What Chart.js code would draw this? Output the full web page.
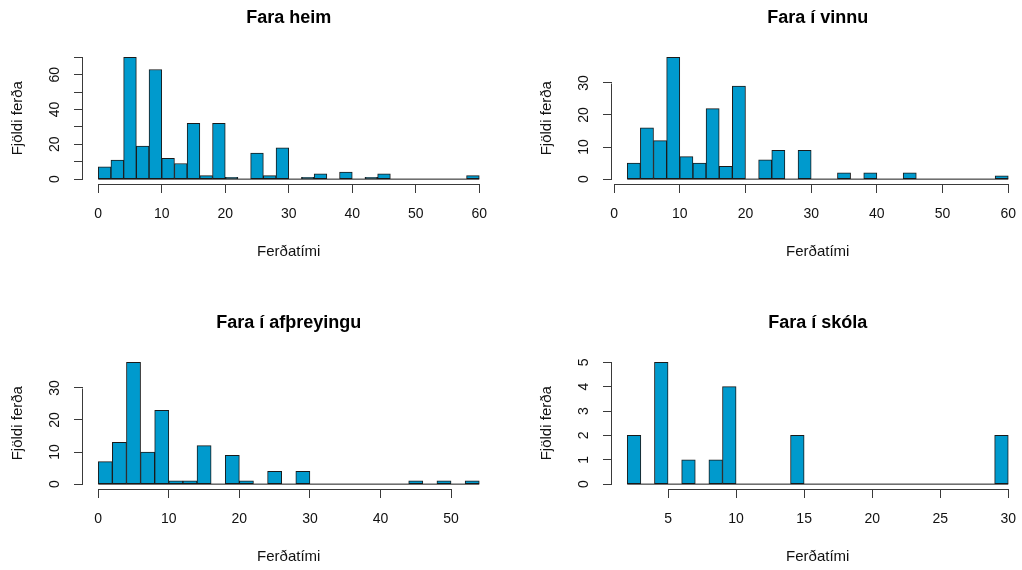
<!DOCTYPE html>
<html><head><meta charset="utf-8">
<script src="https://cdn.jsdelivr.net/npm/chart.js@4/dist/chart.umd.min.js"></script>
<style>
html,body{margin:0;padding:0;background:#fff;overflow:hidden;width:1022px;height:570px;position:relative;}
canvas{position:absolute;}
</style></head><body>
<canvas id="c1" width="511" height="305" style="left:0;top:0"></canvas>
<canvas id="c2" width="511" height="305" style="left:529px;top:0"></canvas>
<canvas id="c3" width="511" height="265" style="left:0;top:305px"></canvas>
<canvas id="c4" width="511" height="265" style="left:529px;top:305px"></canvas>
<script>
// ---- data ----
const xTitle = 'Ferðatími';
const yTitle = 'Fjöldi ferða';

const heimTitle = 'Fara heim';
const heimBinWidth = 2;
const heimBinStarts = [0,2,4,6,8,10,12,14,16,18,20,22,24,26,28,30,32,34,36,38,40,42,44,46,48,50,52,54,56,58];
const heimCounts    = [7,11,70,19,63,12,9,32,2,32,1,0,15,2,18,0,1,3,0,4,0,1,3,0,0,0,0,0,0,2];
const heimXTicks = [0,10,20,30,40,50,60];
const heimYTicks = [0,10,20,30,40,50,60,70];
const heimYLabels = [0,20,40,60];

const vinnaTitle = 'Fara í vinnu';
const vinnaBinWidth = 2;
const vinnaBinStarts = [2,4,6,8,10,12,14,16,18,20,22,24,26,28,30,32,34,36,38,40,42,44,46,48,50,52,54,56,58];
const vinnaCounts    = [5,16,12,38,7,5,22,4,29,0,6,9,0,9,0,0,2,0,2,0,0,2,0,0,0,0,0,0,1];
const vinnaXTicks = [0,10,20,30,40,50,60];
const vinnaYTicks = [0,10,20,30];
const vinnaYLabels = [0,10,20,30];

const afthTitle = 'Fara í afþreyingu';
const afthBinWidth = 2;
const afthBinStarts = [0,2,4,6,8,10,12,14,16,18,20,22,24,26,28,30,32,34,36,38,40,42,44,46,48,50,52];
const afthCounts    = [7,13,38,10,23,1,1,12,0,9,1,0,4,0,4,0,0,0,0,0,0,0,1,0,1,0,1];
const afthXTicks = [0,10,20,30,40,50];
const afthYTicks = [0,10,20,30];
const afthYLabels = [0,10,20,30];

const skoliTitle = 'Fara í skóla';
const skoliBinWidth = 1;
const skoliBinStarts = [2,3,4,5,6,7,8,9,10,11,12,13,14,15,16,17,18,19,20,21,22,23,24,25,26,27,28,29];
const skoliCounts    = [2,0,5,0,1,0,1,4,0,0,0,0,2,0,0,0,0,0,0,0,0,0,0,0,0,0,0,2];
const skoliXTicks = [5,10,15,20,25,30];
const skoliYTicks = [0,1,2,3,4,5];
const skoliYLabels = [0,1,2,3,4,5];

// ---- style ----
const FONT = "'Liberation Sans', Arial, sans-serif";
const TICK_SIZE = 14, LAB_SIZE = 15, MAIN_SIZE = 18;
const TL = 9;
const AXIS_COLOR = '#3a3a3a';
const TEXT_COLOR = '#111';
const BAR_FILL = '#009ACD';
const BAR_EDGE = '#1a1a1a';

const axisLines = {
  id: 'axisLines',
  afterDraw(chart) {
    const ctx = chart.ctx;
    const xs = chart.scales.x, ys = chart.scales.y;
    ctx.save();
    ctx.strokeStyle = AXIS_COLOR;
    ctx.lineWidth = 1;
    const xt = xs.ticks, yt = ys.ticks;
    const yLine = Math.round(xs.top) + 0.5;
    ctx.beginPath();
    ctx.moveTo(Math.round(xs.getPixelForValue(xt[0].value)) + 0.5, yLine);
    ctx.lineTo(Math.round(xs.getPixelForValue(xt[xt.length - 1].value)) + 0.5, yLine);
    ctx.stroke();
    const xLine = Math.round(ys.right) - 0.5;
    ctx.beginPath();
    ctx.moveTo(xLine, Math.round(ys.getPixelForValue(yt[0].value)) + 0.5);
    ctx.lineTo(xLine, Math.round(ys.getPixelForValue(yt[yt.length - 1].value)) + 0.5);
    ctx.stroke();
    ctx.restore();
  }
};

const measureCtx = document.createElement('canvas').getContext('2d');

function makeHist(id, title, starts, counts, width, xTicks, yTicks, yLabels) {
  const canvas = document.getElementById(id);
  const W = canvas.width, H = canvas.height;
  const lo = starts[0], hi = starts[starts.length - 1] + width;
  const xPad = (hi - lo) * 0.04;
  const yMax = Math.max(...counts);
  const yPad = yMax * 0.04;
  const bars = starts.map((s, i) => ({x: s + width / 2, y: counts[i]}));
  measureCtx.font = TICK_SIZE + 'px ' + FONT;
  const widest = Math.max(...yLabels.map(v => measureCtx.measureText(String(v)).width));
  const areaLeft = 83, areaRight = 494.5, areaBottom = 184, xAxisH = 77;
  const grid = {display: true, drawOnChartArea: false, drawTicks: true, tickLength: TL,
                tickColor: AXIS_COLOR, color: AXIS_COLOR, lineWidth: 1, offset: false};
  new Chart(canvas, {
    type: 'bar',
    data: {datasets: [
      {type: 'bar', data: bars, backgroundColor: BAR_FILL, borderColor: BAR_EDGE, borderWidth: 1,
       borderSkipped: false, barPercentage: 1, categoryPercentage: 1, order: 2},
      {type: 'line', data: [{x: lo, y: 0}, {x: hi, y: 0}], borderColor: BAR_EDGE, borderWidth: 1,
       pointRadius: 0, fill: false, order: 1}
    ]},
    options: {
      responsive: false, animation: false, devicePixelRatio: 1,
      events: [],
      layout: {padding: {left: 0, top: 0, right: W - areaRight, bottom: H - areaBottom - xAxisH}},
      plugins: {
        legend: {display: false}, tooltip: {enabled: false},
        title: {display: true, text: title, fullSize: false, align: 'center', color: '#000',
                font: {family: FONT, size: MAIN_SIZE, weight: 'bold', lineHeight: 1.2},
                padding: {top: 7, bottom: 23.8}}
      },
      scales: {
        x: {type: 'linear', position: 'bottom', min: lo - xPad, max: hi + xPad, offset: false,
            afterBuildTicks: ax => { ax.ticks = xTicks.map(v => ({value: v})); },
            afterFit: ax => { ax.height = xAxisH; },
            grid: grid, border: {display: false},
            ticks: {autoSkip: false, minRotation: 0, maxRotation: 0, padding: 13,
                    font: {family: FONT, size: TICK_SIZE}, color: TEXT_COLOR},
            title: {display: true, text: xTitle, color: TEXT_COLOR, padding: 0,
                    font: {family: FONT, size: LAB_SIZE, lineHeight: 1.2}}},
        y: {type: 'linear', position: 'left', min: -yPad, max: yMax + yPad,
            afterBuildTicks: ax => { ax.ticks = yTicks.map(v => ({value: v})); },
            afterFit: ax => { ax.width = areaLeft; },
            grid: grid, border: {display: false},
            ticks: {autoSkip: false, minRotation: 90, maxRotation: 90, crossAlign: 'center',
                    padding: 18.5 - widest / 2,
                    callback: v => yLabels.includes(v) ? String(v) : '',
                    font: {family: FONT, size: TICK_SIZE}, color: TEXT_COLOR},
            title: {display: true, text: yTitle, color: TEXT_COLOR, padding: {top: 8.5, bottom: 0},
                    font: {family: FONT, size: LAB_SIZE, lineHeight: 1.2}}}
      }
    },
    plugins: [axisLines]
  });
}

makeHist('c1', heimTitle, heimBinStarts, heimCounts, heimBinWidth, heimXTicks, heimYTicks, heimYLabels);
makeHist('c2', vinnaTitle, vinnaBinStarts, vinnaCounts, vinnaBinWidth, vinnaXTicks, vinnaYTicks, vinnaYLabels);
makeHist('c3', afthTitle, afthBinStarts, afthCounts, afthBinWidth, afthXTicks, afthYTicks, afthYLabels);
makeHist('c4', skoliTitle, skoliBinStarts, skoliCounts, skoliBinWidth, skoliXTicks, skoliYTicks, skoliYLabels);
</script>
</body></html>
